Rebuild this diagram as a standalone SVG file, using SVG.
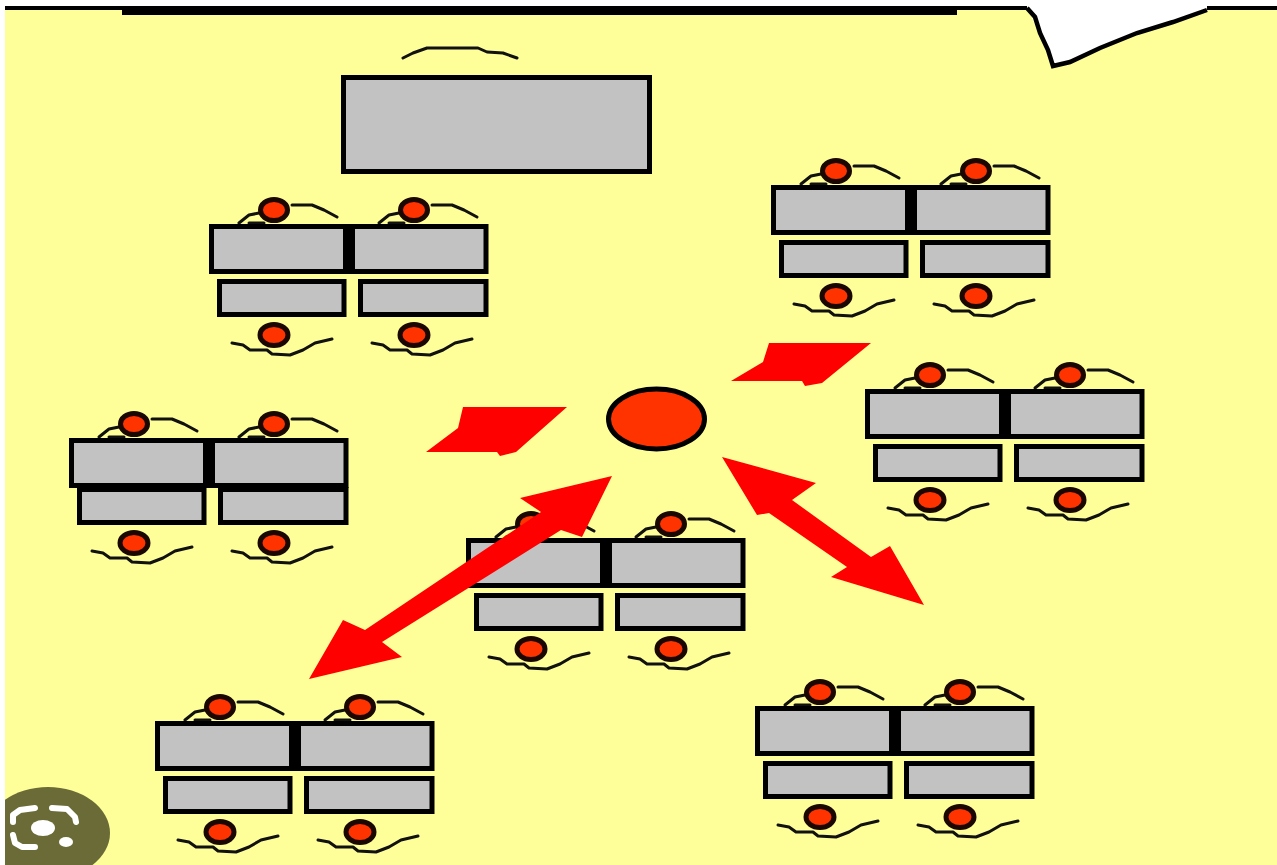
<svg xmlns="http://www.w3.org/2000/svg" width="1277" height="865" viewBox="0 0 1277 865">
<style>
.desk{fill:#c2c2c2;stroke:#000;stroke-width:5}
.wire{fill:none;stroke:#111;stroke-width:3;stroke-linecap:round;stroke-linejoin:round}
.head{fill:#ff3300;stroke:#1a0800;stroke-width:5}
.red{fill:#ff0000}
.badge-line{fill:none;stroke:#fff;stroke-width:6;stroke-linecap:round;stroke-linejoin:round}
</style>
<defs>
<g id="person-top">
<path class="wire" d="M-35 13L-25 5L-15 3M-25 13H-10M18 -5H38L50 0L63 7"/>
<ellipse class="head" cx="0" cy="0" rx="13.500" ry="10.500"/>
</g>
<g id="person-bottom">
<path class="wire" d="M-42 8L-31 10L-24 15H-7L-2 19L16 20L29 15L41 8L58 4"/>
<ellipse class="head" cx="0" cy="0" rx="14" ry="10.500"/>
</g>
<g id="cluster-upper">
<use href="#person-top" x="65" y="-14"/>
<use href="#person-top" x="205" y="-14"/>
<rect class="desk" x="2.500" y="2.500" width="137" height="45"/>
<rect class="desk" x="142.500" y="2.500" width="134.500" height="45"/>
<rect x="134" y="2" width="12" height="46" fill="#000"/>
</g>
<g id="cluster-lower">
<rect class="desk" x="10.500" y="57.500" width="124.500" height="33"/>
<rect class="desk" x="151.500" y="57.500" width="125.500" height="33"/>
<use href="#person-bottom" x="65" y="111"/>
<use href="#person-bottom" x="205" y="111"/>
</g>
<clipPath id="badge-clip"><rect x="5" y="770" width="130" height="95"/></clipPath>
</defs>
<rect id="page" width="1277" height="865" fill="#ffff99"/>
<g id="page-edge">
<rect width="5" height="865" fill="#fff"/>
<rect x="5" y="0" width="1272" height="6" fill="#fff"/>
<rect x="5" y="6" width="1022" height="4" fill="#000"/>
<rect x="122" y="6" width="835" height="9" fill="#000"/>
<rect x="1207" y="6" width="70" height="4" fill="#000"/>
<path d="M1027 6L1053 66L1207 8V6Z" fill="#fff"/>
<path d="M1027 8L1035 17L1040 33L1048 50L1053 66L1070 62L1100 48L1137 33L1173 22L1207 10" fill="none" stroke="#000" stroke-width="4.500"/>
</g>
<g id="teacher">
<path class="wire" d="M403 58L413 53L427 48H478L487 52L503 53L517 58"/>
<rect class="desk" x="343.500" y="77.500" width="306" height="94"/>
</g>
<g id="group-a"><use href="#cluster-upper" x="209" y="224"/><use href="#cluster-lower" x="209" y="224"/></g>
<g id="group-b"><use href="#cluster-upper" x="771" y="185"/><use href="#cluster-lower" x="771" y="185"/></g>
<g id="group-c"><use href="#cluster-upper" x="865" y="389"/><use href="#cluster-lower" x="865" y="389"/></g>
<g id="group-d"><use href="#cluster-upper" x="69" y="438"/><use href="#cluster-lower" x="69" y="432"/></g>
<g id="group-e"><use href="#cluster-upper" x="466" y="538"/><use href="#cluster-lower" x="466" y="538"/></g>
<g id="group-f"><use href="#cluster-upper" x="155" y="721"/><use href="#cluster-lower" x="155" y="721"/></g>
<g id="group-g"><use href="#cluster-upper" x="755" y="706"/><use href="#cluster-lower" x="755" y="706"/></g>
<g id="speaker">
<ellipse cx="656.500" cy="419" rx="48" ry="30" fill="#ff3300" stroke="#000" stroke-width="5"/>
</g>
<g id="connectors">
<path class="red" d="M463 407H567L516 452L500 456L497 452H426L458 428Z"/>
<path class="red" d="M769 343H871L822 383L805 386L802 381H731L763 362Z"/>
<path class="red" d="M612 476L520 498L541 512L365 630L343 620L309 679L402 657L382 642L561 530L582 537Z"/>
<path class="red" d="M722 457L816 483L792 500L871 557L890 546L924 605L831 577L847 567L769 513L757 515Z"/>
</g>
<g id="lens-badge" clip-path="url(#badge-clip)">
<ellipse cx="48" cy="833" rx="62" ry="46" fill="#6b6b38"/>
<path class="badge-line" d="M35 808L20 810L13 815L13 822M52 808L67 809L75 817L76 822M13 835L15 843L22 847L35 847"/>
<ellipse cx="43" cy="828" rx="12" ry="8" fill="#fff"/>
<ellipse cx="66" cy="842" rx="7" ry="5" fill="#fff"/>
</g>
</svg>
